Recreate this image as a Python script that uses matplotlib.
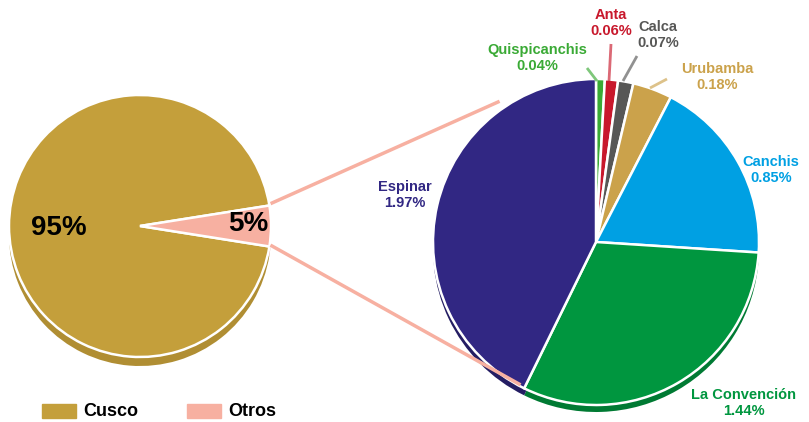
import matplotlib.pyplot as plt

# data
main_labels = ['Cusco', 'Otros']
main_values = [95, 5]
main_colors = ['#C49F3B', '#F7B0A1']
main_shadow = ['#B08E33', '#E09A8B']

prov_labels = ['Quispicanchis', 'Anta', 'Calca', 'Urubamba', 'Canchis', 'La Convención', 'Espinar']
prov_values = [0.04, 0.06, 0.07, 0.18, 0.85, 1.44, 1.97]
prov_colors = ['#3AAA35', '#C8182C', '#575756', '#CBA24B', '#00A0E3', '#00963F', '#312783']
prov_shadow = ['#2E8A2A', '#A01322', '#444444', '#A8873C', '#0080B8', '#007A33', '#241D63']

H = 422  # work in pixel coords, y flipped


def py(y):
    return H - y


plt.rcParams['font.family'] = ['Liberation Sans', 'DejaVu Sans']

fig = plt.figure(figsize=(8.09, 4.22), dpi=100)
ax = fig.add_axes([0, 0, 1, 1])

# left pie (with shadow)
lc, lr = (140, py(226)), 131
ax.pie(main_values, colors=main_shadow, startangle=9, radius=lr,
       center=(lc[0], lc[1] - 9), wedgeprops=dict(linewidth=0))
ax.pie(main_values, colors=main_colors, startangle=9, radius=lr, center=lc,
       wedgeprops=dict(edgecolor='white', linewidth=1.8))

# right pie (with shadow)
rc, rr = (596, py(242)), 163
ax.pie(prov_values, colors=prov_shadow, startangle=90, counterclock=False,
       radius=rr, center=(rc[0], rc[1] - 7), wedgeprops=dict(linewidth=0))
ax.pie(prov_values, colors=prov_colors, startangle=90, counterclock=False,
       radius=rr, center=rc, wedgeprops=dict(edgecolor='white', linewidth=1.8))

# connector lines between pies
ax.plot([272, 498], [py(203), py(102)], color=main_colors[1], lw=2.5, zorder=0.5)
ax.plot([272, 519], [py(246), py(384)], color=main_colors[1], lw=2.5, zorder=3)

# percent labels left pie
ax.text(59, py(228), f'{main_values[0]}%', fontsize=20, fontweight='bold',
        ha='center', va='center')
ax.text(248, py(224), f'{main_values[1]}%', fontsize=20, fontweight='bold',
        ha='center', va='center')

# province labels
label_pos = [(537, 58), (611, 23), (658, 35), (717, 77), (771, 170), (744, 403), (405, 195)]
for lab, val, col, (x, y) in zip(prov_labels, prov_values, prov_colors, label_pos):
    ax.text(x, py(y), f'{lab}\n{val:.2f}%', color=col, fontsize=10.5,
            fontweight='bold', ha='center', va='center', linespacing=1.15)

# leader lines for the small slices
leaders = [((587, 68), (597, 81)), ((611, 44), (609, 81)),
           ((637, 56), (623, 81)), ((667, 79), (650, 88))]
for col, ((x0, y0), (x1, y1)) in zip(prov_colors[:4], leaders):
    ax.plot([x0, x1], [py(y0), py(y1)], color=col, lw=2, alpha=0.65,
            solid_capstyle='butt')

# legend
for i, (lab, col) in enumerate(zip(main_labels, main_colors)):
    x0 = 42 + i * 145
    ax.add_patch(plt.Rectangle((x0, py(418)), 34, 14, color=col))
    ax.text(x0 + 41, py(411), lab, fontsize=13, fontweight='bold',
            ha='left', va='center')

ax.set_xlim(0, 809)
ax.set_ylim(0, H)
ax.set_aspect('equal')
ax.axis('off')

fig.savefig('out.png', dpi=100)
